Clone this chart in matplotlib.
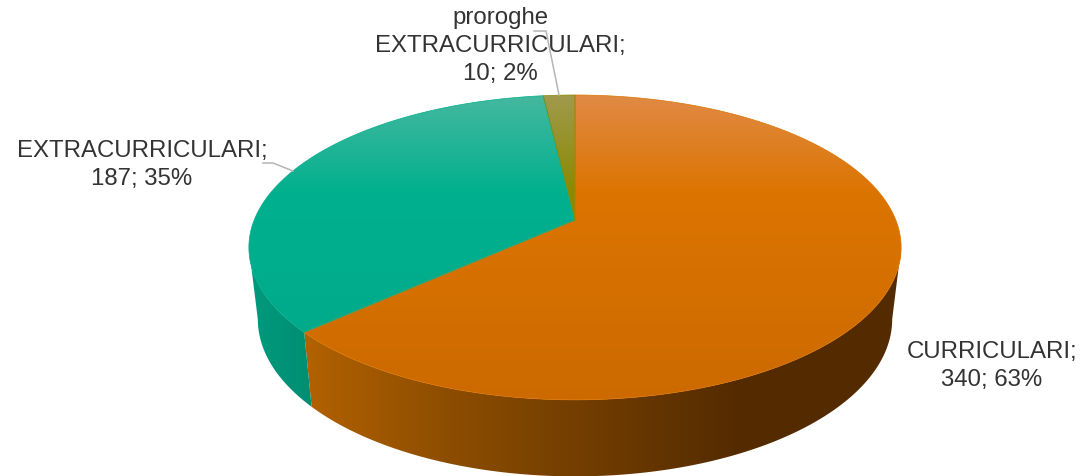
import numpy as np
import matplotlib
matplotlib.use("Agg")
import matplotlib.pyplot as plt
from matplotlib.colors import LinearSegmentedColormap
from matplotlib.patches import PathPatch
from matplotlib.path import Path

plt.rcParams['font.family'] = ['Liberation Sans', 'DejaVu Sans']

categories = ["CURRICULARI", "EXTRACURRICULARI", "proroghe\nEXTRACURRICULARI"]
values = [340, 187, 10]

top_colors = [[(0, "#e08a45"), (0.32, "#dc7400"), (1, "#cc6a00")],
              [(0, "#45b89f"), (0.32, "#00b08e"), (1, "#00a88a")],
              [(0, "#a09a4c"), (0.32, "#8a8a00"), (1, "#8a8a00")]]
side_colors = [[(0, "#b36200"), (0.245, "#8c4d00"), (0.726, "#542b00"), (1, "#542b00")],
               [(0, "#009a7e"), (1, "#008e72")],
               [(0, "#777700"), (1, "#777700")]]
side_extent = [(302, 905, 476, 95), (250, 312, 476, 95), (250, 312, 476, 95)]
label_pos = [(992, 366), (142, 165), (500, 46)]
leaders = [None,
           [(263, 163), (273, 163), (293, 171)],
           [(534, 31), (546, 31), (559, 95)]]

CX = 575
K = 0.18


def project(theta, apex_y, a, b):
    # theta clockwise from 12 o'clock, near side drawn bigger
    u = np.sin(theta)
    v = np.cos(theta)
    s = 1 / (1 + K * v)
    return CX + a * u * s, apex_y - b * v * s


def top_arc(t0, t1):
    t = np.linspace(t0, t1, 200)
    return project(t, 220, 320.8, 147.5)


def bottom_arc(t0, t1):
    t = np.linspace(t0, t1, 200)
    return project(t, 291, 312, 152)


def gradient_fill(ax, xs, ys, colors, extent, horizontal=False, edge=None):
    pts = np.column_stack([xs, ys])
    patch = PathPatch(Path(np.vstack([pts, pts[0]]), closed=True), fc="none", ec="none")
    ax.add_patch(patch)
    cmap = LinearSegmentedColormap.from_list("g", colors)
    ramp = np.linspace(0, 1, 256)
    ramp = ramp.reshape(1, -1) if horizontal else ramp.reshape(-1, 1)
    im = ax.imshow(ramp, cmap=cmap, extent=extent, aspect="auto", interpolation="bilinear", zorder=2)
    im.set_clip_path(patch)
    if edge:
        ax.plot(np.append(xs, xs[0]), np.append(ys, ys[0]), color=edge, lw=0.5, zorder=2.1)


fig = plt.figure(figsize=(10.82, 4.76), dpi=100)
ax = fig.add_axes([0, 0, 1, 1])

total = sum(values)
edges = np.concatenate([[0], np.cumsum(values)]) / total * 2 * np.pi
right_tan = np.arccos(-K)
left_tan = 2 * np.pi - right_tan

# side wall, only the part that faces the viewer
for i in range(len(values)):
    t0 = max(edges[i], right_tan)
    t1 = min(edges[i + 1], left_tan)
    if t1 <= t0:
        continue
    tx, ty = top_arc(t0, t1)
    bx, by = bottom_arc(t0, t1)
    xs = np.concatenate([tx, bx[::-1]])
    ys = np.concatenate([ty, by[::-1]])
    gradient_fill(ax, xs, ys, side_colors[i], side_extent[i], horizontal=True)

# top face
for i in range(len(values)):
    arc_x, arc_y = top_arc(edges[i], edges[i + 1])
    xs = np.concatenate([[CX], arc_x])
    ys = np.concatenate([[220], arc_y])
    gradient_fill(ax, xs, ys, top_colors[i], (240, 910, 400, 95), edge=top_colors[i][1][1])

# labels
for i in range(len(values)):
    pct = round(values[i] / total * 100)
    ax.text(label_pos[i][0], label_pos[i][1], f"{categories[i]};\n{values[i]}; {pct}%",
            ha="center", va="center", multialignment="center", fontsize=17.3,
            color="#333333", linespacing=1.38, zorder=3)
    if leaders[i]:
        lx, ly = zip(*leaders[i])
        ax.plot(lx, ly, color="#b5b5b5", lw=1.1, zorder=4)

ax.set_xlim(0, 1082)
ax.set_ylim(476, 0)
ax.axis("off")
fig.savefig("out.png", dpi=100)
